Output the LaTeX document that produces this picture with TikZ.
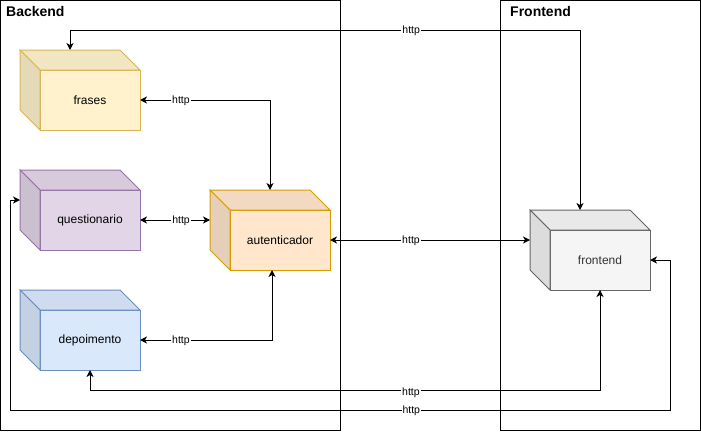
\documentclass[tikz,border=0pt]{standalone}
\usepackage{fontspec}
\setmainfont{Liberation Sans}
\usetikzlibrary{arrows.meta,calc}

\definecolor{frasesfill}{HTML}{FFF2CC}
\definecolor{frasesline}{HTML}{D6B656}
\definecolor{questfill}{HTML}{E1D5E7}
\definecolor{questline}{HTML}{9673A6}
\definecolor{depfill}{HTML}{DAE8FC}
\definecolor{depline}{HTML}{6C8EBF}
\definecolor{authfill}{HTML}{FFE6CC}
\definecolor{authline}{HTML}{D79B00}
\definecolor{frontfill}{HTML}{F5F5F5}
\definecolor{frontline}{HTML}{666666}
\definecolor{fronttext}{HTML}{333333}

\tikzset{
  group/.style={draw, line width=1pt},
  grouptitle/.style={anchor=west, inner sep=0pt, font=\bfseries\fontsize{14}{16}\selectfont},
  cubefront/.style={rectangle, line width=1pt, outer sep=0pt, inner sep=0pt,
    minimum width=100pt, minimum height=60pt, font=\fontsize{12}{14}\selectfont},
  cubeside/.style={line width=1pt, line join=miter},
  link/.style={line width=1pt, {Stealth[length=7pt,width=7pt,inset=2pt]}-{Stealth[length=7pt,width=7pt,inset=2pt]}},
  proto/.style={fill=white, inner sep=1pt, font=\fontsize{10.5}{12}\selectfont},
}

\begin{document}
\begin{tikzpicture}[x=1pt,y=-1pt]
  \useasboundingbox (0,0) rectangle (701,431);

  % containers
  \draw[group] (0.5,0.5) rectangle (340.5,430.5);
  \draw[group] (500.5,0.5) rectangle (700.5,430.5);
  \node[grouptitle] (backendtitle) at (6,11) {Backend};
  \node[grouptitle] (frontendtitle) at (510,11) {Frontend};

  % cubes
  \foreach \name/\cx/\cy/\fc/\lc/\tc/\txt in {
      frases/90/100/frasesfill/frasesline/black/frases,
      quest/90/220/questfill/questline/black/questionario,
      dep/90/340/depfill/depline/black/depoimento,
      auth/280/240/authfill/authline/black/autenticador,
      front/600/260/frontfill/frontline/fronttext/frontend}{
    \node[cubefront, fill=\fc, draw=\lc, text=\tc] (\name) at (\cx,\cy) {\txt};
    \filldraw[cubeside, fill=\fc!95!black, draw=\lc]
      ($(\name.north west)+(-20,-20)$) -- ($(\name.north east)+(-20,-20)$)
      -- (\name.north east) -- (\name.north west) -- cycle;
    \filldraw[cubeside, fill=\fc!90!black, draw=\lc]
      ($(\name.north west)+(-20,-20)$) -- (\name.north west)
      -- (\name.south west) -- ($(\name.south west)+(-20,-20)$) -- cycle;
  }

  % connection points on the cube backs
  \coordinate (frasestop) at ($(frases.north)+(-20,-20)$);
  \coordinate (questleft) at ($(quest.west)+(-20,-20)$);
  \coordinate (authtop) at ($(auth.north)+(-10,-20)$);
  \coordinate (authleft) at ($(auth.west)+(-20,-20)$);
  \coordinate (authbottom) at ($(auth.south)+(-8,0)$);
  \coordinate (fronttop) at ($(front.north)+(-20,-20)$);
  \coordinate (frontleft) at ($(front.west)+(-20,-20)$);

  % links
  \draw[link] (frases.east) -- node[proto, pos=0.315, yshift=-0.5pt] {http} (frases.east -| authtop) -- (authtop);
  \draw[link] (quest.east) -- node[proto, pos=0.586, yshift=-0.5pt] {http} (authleft);
  \draw[link] (dep.east) -- node[proto, pos=0.31, yshift=-0.5pt] {http} (dep.east -| authbottom) -- (authbottom);
  \draw[link] (auth.east) -- node[proto, pos=0.405, yshift=-1pt] {http} (frontleft);
  \draw[link] (frasestop) -- ++(0,-20) -| node[proto, pos=0.3345, yshift=-1pt] {http} (fronttop);
  \draw[link] (dep.south) -- ++(0,20) -| node[proto, pos=0.3147, yshift=-3pt] {http} (front.south);
  \draw[link] (questleft) -- ++(-10,0) -- ++(0,210) -| node[proto, pos=0.304, yshift=-1pt] {http}
    ($(front.east)+(20,0)$) -- (front.east);
\end{tikzpicture}
\end{document}
